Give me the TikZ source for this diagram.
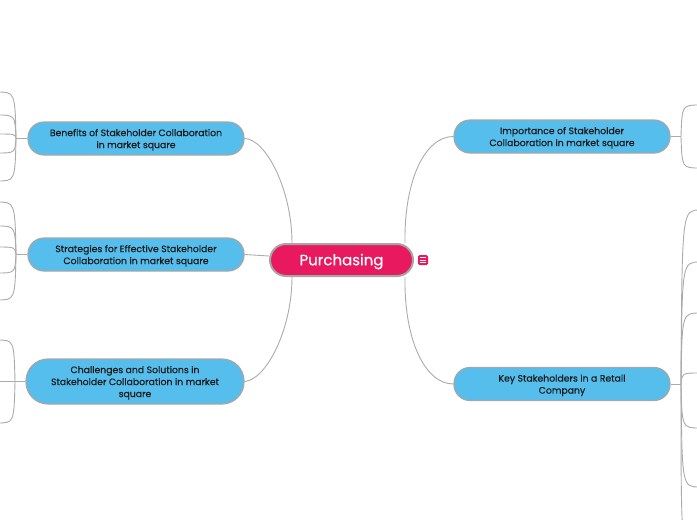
\documentclass[tikz,border=0pt]{standalone}
\usepackage{fontspec}
\setmainfont{Poppins}
\newfontfamily\medfont{Poppins}[FakeBold=0.35]
\definecolor{pk}{HTML}{E8195E}
\definecolor{bl}{HTML}{55BEEC}
\definecolor{bd}{HTML}{A6A6A6}
\definecolor{ln}{HTML}{ABABAB}
\definecolor{tx}{HTML}{1A1A1A}
\newcommand{\myup}{\rule{0pt}{9.6pt}}
\begin{document}
\begin{tikzpicture}[x=1pt,y=-1pt,
  sub/.style={draw=bd, line width=1.2pt, fill=bl, rounded corners=16pt,
    minimum width=216pt, minimum height=33pt, align=center, inner sep=0pt,
    font=\medfont\fontsize{9.3}{12}\selectfont, text=tx},
  root/.style={draw=bd, line width=2pt, fill=pk, rounded corners=16pt,
    minimum width=143pt, minimum height=32pt, inner sep=0pt,
    font=\medfont\fontsize{15}{18}\selectfont, text=white},
  conn/.style={draw=ln, line width=0.9pt},
  notebox/.style={fill=pk, rounded corners=1.5pt, minimum size=10pt, inner sep=0pt}]
\useasboundingbox (0,0) rectangle (697,520);
\clip (0,0) rectangle (697,520);

% nodes
\node[root] (cen) at (341.5,260) {\rule{0pt}{14.5pt}Purchasing};
\node[notebox] (note) at (423,260) {};
\foreach \d in {-2.5,0,2.5}
  \draw[white, line width=0.8pt] ([xshift=-2.8pt,yshift=\d pt]note.center) -- ([xshift=2.8pt,yshift=\d pt]note.center);

\node[sub] (ben) at (136,138.5) {\myup Benefits of Stakeholder Collaboration\\in market square};
\node[sub] (str) at (136,254.5) {\myup Strategies for Effective Stakeholder\\Collaboration in market square};
\node[sub, minimum height=45pt, minimum width=218pt, rounded corners=22pt] (cha) at (135,381.5) {\myup Challenges and Solutions in\\Stakeholder Collaboration in market\\square};
\node[sub] (imp) at (562,136.5) {\myup Importance of Stakeholder\\Collaboration in market square};
\node[sub] (key) at (562,384) {\myup Key Stakeholders in a Retail\\Company};

% main connectors
\draw[conn] (ben.east) .. controls (266,139) and (292,190) .. ([xshift=23pt]cen.north west);
\draw[conn] (cha.east) .. controls (266,380) and (292,330) .. ([xshift=23pt]cen.south west);
\draw[conn] (str.east) -- ([yshift=4pt]cen.west);
\draw[conn] ([xshift=-9pt]cen.north east) .. controls (404,180) and (425,136.5) .. (imp.west);
\draw[conn] ([xshift=-9pt]cen.south east) .. controls (404,340) and (425,384) .. (key.west);

% junctions
\coordinate (jb) at (16,138.5);
\coordinate (js) at (16,254.5);
\coordinate (jc) at (15,381.5);
\coordinate (ji) at (681,136.5);
\coordinate (jk) at (681,384);
\draw[conn] (ben.west) -- (jb);
\draw[conn] (str.west) -- (js);
\draw[conn] (cha.west) -- (jc);
\draw[conn] (imp.east) -- (ji);
\draw[conn] (key.east) -- (jk);

% children of Benefits (off picture, left)
\foreach \e [count=\i] in {92,115,134,153,181}{
  \coordinate (b\i) at (-3,\e);
  \draw[conn] (jb) .. controls (15,\e) .. (b\i);
}
\foreach \e [count=\i] in {202,226,247,273,300}{
  \coordinate (s\i) at (-3,\e);
  \draw[conn] (js) .. controls (15,\e) .. (s\i);
}
\coordinate (c1) at (-3,340);
\coordinate (c2) at (-3,381.5);
\coordinate (c3) at (-3,423);
\draw[conn] (jc) .. controls (14,340) .. (c1);
\draw[conn] (jc) -- (c2);
\draw[conn] (jc) .. controls (14,423) .. (c3);

% children of Importance (off picture, right)
\coordinate (i1) at (700,105);
\coordinate (i2) at (700,168);
\draw[conn] (ji) .. controls (682,105) .. (i1);
\draw[conn] (ji) .. controls (682,168) .. (i2);

% children of Key Stakeholders
\foreach \e [count=\i] in {210,262,313,373,428,487}{
  \coordinate (k\i) at (700,\e);
  \draw[conn] (jk) .. controls (682,\e) .. (k\i);
}
\coordinate (k7) at (700,560);
\draw[conn] (jk) .. controls (681,560) .. (k7);
\end{tikzpicture}
\end{document}
